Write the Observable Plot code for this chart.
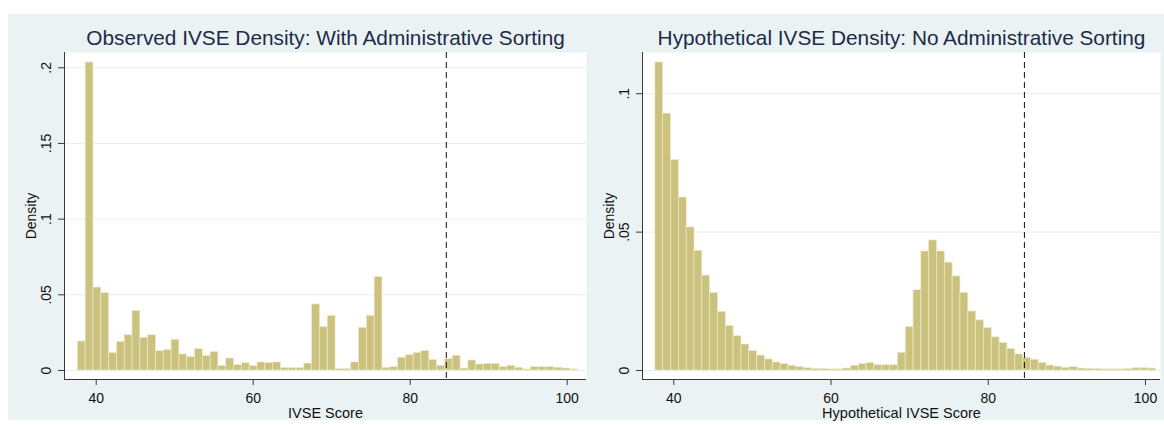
<!DOCTYPE html>
<html><head><meta charset="utf-8">
<script src="https://cdn.jsdelivr.net/npm/d3@7"></script>
<script src="https://cdn.jsdelivr.net/npm/@observablehq/plot@0.6"></script>
<style>
body{margin:0;background:#fff;width:1164px;height:425px;overflow:hidden;position:relative;font-family:"Liberation Sans",Arial,sans-serif}
#bg{position:absolute;left:8px;top:14px;width:1156px;height:406px;background:#eaf2f3}
#left{position:absolute;left:0;top:0}
#right{position:absolute;left:600px;top:0}
</style></head><body>
<div id="bg"></div><div id="left"></div><div id="right"></div>
<script>
// histogram bin layout (IVSE score units)
const binStart = 37.66;
const binWidth = 0.995;

// Observed IVSE density per bin
const observedDensity = [
  0.0192, 0.2035, 0.0548, 0.0511, 0.0115, 0.0189, 0.0233, 0.0394, 0.0216, 0.0233,
  0.0128, 0.0134, 0.0203, 0.0106, 0.0090, 0.0141, 0.0097, 0.0121, 0.0029, 0.0079,
  0.0035, 0.0048, 0.0029, 0.0053, 0.0048, 0.0053, 0.0015, 0.0015, 0.0015, 0.0046,
  0.0436, 0.0286, 0.0361, 0.0009, 0.0009, 0.0053, 0.0282, 0.0361, 0.0617, 0.0018,
  0.0022, 0.0084, 0.0101, 0.0115, 0.0128, 0.0070, 0.0031, 0.0075, 0.0097, 0.0013,
  0.0066, 0.0040, 0.0044, 0.0044, 0.0022, 0.0031, 0.0018, 0.0007, 0.0022, 0.0022,
  0.0022, 0.0018, 0.0013, 0.0007
];

// Hypothetical IVSE density per bin
const hypotheticalDensity = [
  0.1113, 0.0928, 0.0761, 0.0625, 0.0517, 0.0433, 0.0343, 0.0280, 0.0212, 0.0161,
  0.0124, 0.0094, 0.0070, 0.0054, 0.0040, 0.0029, 0.0023, 0.0017, 0.0012, 0.0008,
  0.0006, 0.0005, 0.0004, 0.0004, 0.0007, 0.0017, 0.0023, 0.0027, 0.0019, 0.0019,
  0.0019, 0.0064, 0.0157, 0.0290, 0.0430, 0.0470, 0.0430, 0.0390, 0.0340, 0.0280,
  0.0213, 0.0181, 0.0154, 0.0120, 0.0100, 0.0078, 0.0058, 0.0046, 0.0039, 0.0028,
  0.0018, 0.0014, 0.0010, 0.0012, 0.0007, 0.0006, 0.0005, 0.0004, 0.0004, 0.0004,
  0.0005, 0.0008, 0.0008, 0.0007
];

const cutoff = 84.6;
const xTicks = [40, 60, 80, 100];
const xTickLabels = ["40", "60", "80", "100"];
const leftYTicks = [0, 0.05, 0.1, 0.15, 0.2];
const leftYLabels = ["0", ".05", ".1", ".15", ".2"];
const rightYTicks = [0, 0.05, 0.1];
const rightYLabels = ["0", ".05", ".1"];

const titles = ["Observed IVSE Density: With Administrative Sorting", "Hypothetical IVSE Density: No Administrative Sorting"];
const xTitles = ["IVSE Score", "Hypothetical IVSE Score"];
const yTitle = "Density";

function histogram({values, width, marginLeft, marginRight, xDomain, yDomain, yTicks, yLabels, title, xLabel}) {
  const bins = values.map((d, i) => ({x1: binStart + i * binWidth, x2: binStart + (i + 1) * binWidth, y: d}));
  const axisColor = "#3a3a3a";
  return Plot.plot({
    width, height: 425, marginLeft, marginRight, marginTop: 52, marginBottom: 46,
    style: {background: "transparent", fontFamily: "'Liberation Sans', Arial, sans-serif", overflow: "visible"},
    x: {domain: xDomain},
    y: {domain: yDomain},
    marks: [
      Plot.frame({fill: "white", stroke: null}),
      Plot.gridY(yTicks, {stroke: "#e6eeef", strokeOpacity: 1}),
      Plot.rectY(bins, {x1: "x1", x2: "x2", y: "y", fill: "#cbc27f", stroke: "#ede8c9", strokeWidth: 0.7}),
      Plot.ruleX([cutoff], {stroke: "#111", strokeDasharray: "6,4", strokeWidth: 1}),
      Plot.ruleX([xDomain[0]], {stroke: axisColor, strokeWidth: 1}),
      Plot.ruleY([yDomain[0]], {stroke: axisColor, strokeWidth: 1}),
      Plot.axisX(xTicks, {tickSize: 6, tickFormat: () => "", label: null, stroke: axisColor}),
      Plot.axisY(yTicks, {tickSize: 6, tickFormat: () => "", label: null, stroke: axisColor}),
      Plot.text(xTicks, {x: d => d, frameAnchor: "bottom", dy: 23, lineAnchor: "bottom", text: (d, i) => xTickLabels[i], fontSize: 14, fill: "#111"}),
      Plot.text(yTicks, {y: d => d, frameAnchor: "left", dx: -14, rotate: -90, lineAnchor: "bottom", textAnchor: "middle", text: (d, i) => yLabels[i], fontSize: 14, fill: "#111"}),
      Plot.text([yTitle], {frameAnchor: "left", dx: -29, rotate: -90, lineAnchor: "bottom", textAnchor: "middle", fontSize: 14, fill: "#111"}),
      Plot.text([xLabel], {frameAnchor: "bottom", dy: 38, lineAnchor: "bottom", fontSize: 14.5, fill: "#111"}),
      Plot.text([title], {frameAnchor: "top", dy: -8, lineAnchor: "bottom", fontSize: 20.8, fill: "#1c2b47"})
    ]
  });
}

document.getElementById("left").append(histogram({
  values: observedDensity, width: 600, marginLeft: 64, marginRight: 14,
  xDomain: [35.96, 102.46], yDomain: [-0.00595, 0.2101],
  yTicks: leftYTicks, yLabels: leftYLabels, title: titles[0], xLabel: xTitles[0]
}));
document.getElementById("right").append(histogram({
  values: hypotheticalDensity, width: 564, marginLeft: 42, marginRight: 4,
  xDomain: [36.02, 101.91], yDomain: [-0.00325, 0.1149],
  yTicks: rightYTicks, yLabels: rightYLabels, title: titles[1], xLabel: xTitles[1]
}));
</script>
</body></html>
